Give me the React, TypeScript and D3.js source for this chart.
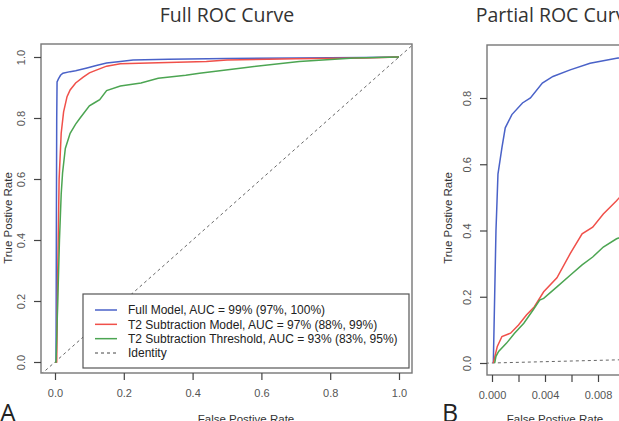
import { useEffect, useRef } from 'react'
import * as d3 from 'd3'

// Full ROC curve points [FPR, TPR]
const fullModelFull: [number, number][] = [
  [0, 0], [0.003, 0], [0.004, 0.45], [0.005, 0.8], [0.006, 0.918], [0.01, 0.928], [0.016, 0.94],
  [0.023, 0.947], [0.044, 0.952], [0.06, 0.955], [0.093, 0.964], [0.12, 0.972], [0.15, 0.98],
  [0.19, 0.985], [0.227, 0.99], [0.33, 0.993], [0.5, 0.995], [0.7, 0.997], [0.9, 0.998], [1, 1]
]
const t2ModelFull: [number, number][] = [
  [0, 0], [0.005, 0], [0.008, 0.3], [0.012, 0.6], [0.018, 0.75], [0.025, 0.82], [0.035, 0.87],
  [0.044, 0.892], [0.06, 0.915], [0.082, 0.934], [0.1, 0.948], [0.12, 0.957], [0.15, 0.97],
  [0.19, 0.978], [0.3, 0.981], [0.44, 0.985], [0.5, 0.99], [0.7, 0.994], [0.9, 0.997], [1, 1]
]
const t2ThresholdFull: [number, number][] = [
  [0, 0], [0.003, 0], [0.008, 0.2], [0.013, 0.4], [0.018, 0.55], [0.022, 0.62], [0.03, 0.7],
  [0.044, 0.75], [0.06, 0.78], [0.073, 0.8], [0.1, 0.84], [0.115, 0.85], [0.13, 0.86],
  [0.15, 0.89], [0.19, 0.905], [0.25, 0.915], [0.3, 0.93], [0.38, 0.94], [0.42, 0.947],
  [0.55, 0.965], [0.71, 0.985], [0.87, 0.997], [1, 1]
]

// Partial ROC curve points [FPR, TPR]
const fullModelPartial: [number, number][] = [
  [0.0001, 0], [0.0002, 0.2], [0.0003, 0.4], [0.00038, 0.49], [0.00045, 0.57], [0.00075, 0.65],
  [0.001, 0.71], [0.0015, 0.75], [0.0023, 0.785], [0.0029, 0.8], [0.0038, 0.845], [0.0046, 0.865],
  [0.0059, 0.885], [0.0074, 0.905], [0.0094, 0.92], [0.011, 0.93]
]
const t2ModelPartial: [number, number][] = [
  [0.0001, 0], [0.0004, 0.05], [0.00075, 0.08], [0.0014, 0.09], [0.002, 0.115], [0.0026, 0.145],
  [0.0032, 0.17], [0.0039, 0.215], [0.0049, 0.257], [0.0059, 0.33], [0.0068, 0.39], [0.0076, 0.41],
  [0.0084, 0.45], [0.0094, 0.49], [0.011, 0.56]
]
const t2ThresholdPartial: [number, number][] = [
  [0.0002, 0], [0.0003, 0.02], [0.0005, 0.035], [0.0011, 0.06], [0.0017, 0.09], [0.0024, 0.12],
  [0.0031, 0.16], [0.0036, 0.19], [0.0039, 0.195], [0.0049, 0.23], [0.0059, 0.265], [0.0068, 0.296],
  [0.0076, 0.32], [0.0084, 0.35], [0.0094, 0.375], [0.011, 0.4]
]

const legendLabels = [
  'Full Model, AUC = 99% (97%, 100%)',
  'T2 Subtraction Model, AUC = 97% (88%, 99%)',
  'T2 Subtraction Threshold, AUC = 93% (83%, 95%)',
  'Identity'
]
const seriesColors = ['#4a62c8', '#f0504a', '#4ca552']

const fullTicks = [0, 0.2, 0.4, 0.6, 0.8, 1.0]
const partialXTicks = [0, 0.002, 0.004, 0.006, 0.008, 0.01]
const partialXLabels = [0, 0.004, 0.008]
const partialYTicks = [0, 0.2, 0.4, 0.6, 0.8]

const sans = '"Liberation Sans", Arial, sans-serif'
const titleFont = '"Open Sans", sans-serif'

export default function App() {
  const ref = useRef<SVGSVGElement | null>(null)

  useEffect(() => {
    const svg = d3.select(ref.current)
    svg.selectAll('*').remove()

    const panel = (opts: {
      id: string, box: [number, number, number, number], x: d3.ScaleLinear<number, number>,
      y: d3.ScaleLinear<number, number>, xTicks: number[], xLabels: number[], xFmt: string,
      yTicks: number[], series: [number, number][][], title: string, titleX: number,
      letter: string, letterX: number, xLabelX: number, yLabelX: number
    }) => {
      const [l, t, r, b] = opts.box
      const g = svg.append('g')
      g.append('clipPath').attr('id', opts.id)
        .append('rect').attr('x', l).attr('y', t).attr('width', r - l).attr('height', b - t)

      const plot = g.append('g').attr('clip-path', `url(#${opts.id})`)
      // identity line across the whole plot region
      const lo = Math.min(opts.x.invert(l), opts.y.invert(b))
      const hi = Math.max(opts.x.invert(r), opts.y.invert(t))
      plot.append('line')
        .attr('x1', opts.x(lo)).attr('y1', opts.y(lo))
        .attr('x2', opts.x(hi)).attr('y2', opts.y(hi))
        .attr('stroke', '#666').attr('stroke-width', 1).attr('stroke-dasharray', '3,3')

      const line = d3.line<[number, number]>().x(d => opts.x(d[0])).y(d => opts.y(d[1]))
      opts.series.forEach((s, i) => {
        plot.append('path').attr('d', line(s) as string)
          .attr('fill', 'none').attr('stroke', seriesColors[i]).attr('stroke-width', 1.5)
      })

      g.append('rect').attr('x', l).attr('y', t).attr('width', r - l).attr('height', b - t)
        .attr('fill', 'none').attr('stroke', '#777').attr('stroke-width', 1.4)

      const xAxis = g.append('g').attr('transform', `translate(0,${b})`)
        .call(d3.axisBottom(opts.x).tickValues(opts.xTicks).tickSize(7).tickPadding(9)
          .tickFormat(d => opts.xLabels.some(v => Math.abs(v - +d) < 1e-9) ? d3.format(opts.xFmt)(+d) : ''))
      xAxis.select('.domain').remove()

      const yAxis = g.append('g').attr('transform', `translate(${l},0)`)
        .call(d3.axisLeft(opts.y).tickValues(opts.yTicks).tickSize(7).tickFormat(d => d3.format('.1f')(+d)))
      yAxis.select('.domain').remove()
      yAxis.selectAll('text')
        .attr('transform', 'rotate(-90)').attr('x', 0).attr('y', -20).attr('dy', '0.36em')
        .style('text-anchor', 'middle')

      for (const ax of [xAxis, yAxis]) {
        ax.selectAll('line').attr('stroke', '#444').attr('stroke-width', 1.2)
        ax.selectAll('text').attr('fill', '#555').style('font-family', sans).style('font-size', '11px')
      }

      g.append('text').attr('x', opts.titleX).attr('y', 22).attr('text-anchor', 'middle')
        .style('font-family', titleFont).style('font-size', '19.5px').attr('fill', '#333').text(opts.title)
      g.append('text').attr('x', opts.letterX).attr('y', 422)
        .style('font-family', titleFont).style('font-size', '25px').attr('fill', '#222').text(opts.letter)
      g.append('text').attr('x', opts.xLabelX).attr('y', 423).attr('text-anchor', 'middle')
        .style('font-family', sans).style('font-size', '11.5px').attr('fill', '#333').text('False Postive Rate')
      g.append('text').attr('transform', `translate(${opts.yLabelX},218) rotate(-90)`).attr('text-anchor', 'middle')
        .style('font-family', sans).style('font-size', '11.5px').attr('fill', '#333').text('True Postive Rate')
      return g
    }

    const xA = d3.scaleLinear().domain([-0.04, 1.04]).range([55 - 0.04 * 344, 55 + 1.04 * 344])
    const yA = d3.scaleLinear().domain([-0.04, 1.04]).range([362 + 0.04 * 305, 362 - 1.04 * 305])
    const gA = panel({
      id: 'clipA', box: [41, 44, 412, 373], x: xA, y: yA, xTicks: fullTicks, xLabels: fullTicks,
      xFmt: '.1f', yTicks: fullTicks,
      series: [fullModelFull, t2ModelFull, t2ThresholdFull], title: 'Full ROC Curve', titleX: 227,
      letter: 'A', letterX: 0, xLabelX: 246, yLabelX: 12
    })

    // legend
    const lg = gA.append('g')
    lg.append('rect').attr('x', 83).attr('y', 294).attr('width', 326).attr('height', 74)
      .attr('fill', '#fff').attr('stroke', '#555').attr('stroke-width', 1.2)
    const rowY = d3.scalePoint<string>().domain(legendLabels).range([310, 353])
    legendLabels.forEach((lab, i) => {
      const yy = rowY(lab) as number
      lg.append('line').attr('x1', 95).attr('x2', 117).attr('y1', yy).attr('y2', yy)
        .attr('stroke', i < 3 ? seriesColors[i] : '#444').attr('stroke-width', i < 3 ? 1.5 : 1)
        .attr('stroke-dasharray', i < 3 ? null : '3,3')
      lg.append('text').attr('x', 128).attr('y', yy).attr('dy', '0.35em')
        .style('font-family', sans).style('font-size', '12px').attr('fill', '#222').text(lab)
    })

    const xB = d3.scaleLinear().domain([0, 0.004]).range([492, 545])
    const yB = d3.scaleLinear().domain([0, 0.8]).range([363, 98])
    panel({
      id: 'clipB', box: [487, 45, 640, 375], x: xB, y: yB, xTicks: partialXTicks, xLabels: partialXLabels,
      xFmt: '.3f', yTicks: partialYTicks,
      series: [fullModelPartial, t2ModelPartial, t2ThresholdPartial], title: 'Partial ROC Curve', titleX: 556,
      letter: 'B', letterX: 442, xLabelX: 555, yLabelX: 452
    })
  }, [])

  return (
    <svg ref={ref} width={619} height={421}
      style={{ position: 'absolute', left: 0, top: 0, background: '#fff' }} />
  )
}
